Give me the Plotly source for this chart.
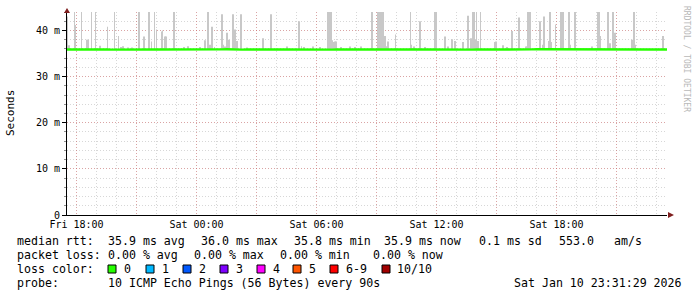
import plotly.graph_objects as go
import pandas as pd

# ---------------- data ----------------
T0 = "2026-01-09 17:31:29"
T1 = "2026-01-10 23:31:29"

# median RTT (ms), one reading every 15 minutes from T0
median_ms = [
    35.88, 35.86, 35.87, 35.85, 35.88, 35.86, 35.87, 35.89, 35.86, 35.85,
    35.87, 35.88, 35.86, 35.87, 35.85, 35.88, 35.90, 35.87, 35.86, 35.85,
    35.86, 35.88, 35.87, 35.86, 35.85, 35.86, 35.87, 35.88, 35.86, 35.85,
    35.87, 35.90, 35.92, 35.95, 35.88, 35.85, 35.86, 35.84, 35.85, 35.86,
    35.87, 35.86, 35.85, 35.86, 35.87, 35.85, 35.84, 35.86, 35.85, 35.86,
    35.85, 35.86, 35.84, 35.85, 35.86, 35.85, 35.84, 35.86, 35.85, 35.84,
    35.85, 35.86, 35.85, 35.84, 35.85, 35.86, 35.85, 35.87, 35.86, 35.85,
    35.86, 35.85, 35.86, 35.87, 35.85, 35.86, 35.84, 35.85, 35.86, 35.85,
    35.86, 35.85, 35.87, 35.86, 35.85, 35.86, 35.85, 35.86, 35.87, 35.88,
    35.86, 35.87, 35.88, 35.90, 35.92, 35.91, 35.90, 35.88, 35.87, 35.88,
    35.87, 35.86, 35.87, 35.86, 35.85, 35.86, 35.87, 35.86, 35.85, 35.86,
    35.87, 35.86, 35.85, 35.86, 35.87, 35.86, 35.85, 35.86, 35.87, 35.86,
    35.86,
]

# smoke: minutes after T0 and top of the ping spread (ms)
spike_min = [
    1.5, 6, 22.5, 25.5, 43.5, 60, 63, 73.5, 85.5, 99, 121.5, 142.5, 154.5, 162,
    168, 183, 195, 217, 231, 245, 253.5, 262.5, 268.5, 283.5, 286.5, 295, 297,
    322, 352,
    363, 399, 414, 424, 429, 436, 442.5, 466, 469, 475, 481, 485, 499, 505, 511,
    523, 540, 587, 612, 660, 697, 703.5, 712,
    738, 759, 782, 785, 788, 791, 794, 801, 804, 807, 822, 849, 864, 882, 915,
    932, 935, 938, 946, 949, 954, 959, 964, 985.5, 1030.5, 1033.5, 1042, 1060,
    1074,
    1105, 1108, 1134, 1142, 1156, 1164, 1188, 1204, 1213, 1219, 1222, 1225,
    1228.5, 1233, 1240.5, 1284, 1287, 1307, 1320, 1336, 1357, 1375.5, 1378.5,
    1382, 1385, 1388, 1418, 1427, 1432,
    1444.5, 1450, 1453, 1465.5, 1482, 1489, 1507, 1510, 1525, 1576, 1593, 1597,
    1600.5, 1622, 1629, 1638, 1642.5, 1645.5, 1696, 1701, 1704, 1789,
]
spike_top = [
    43.0, 36.8, 44, 41.2, 44, 38.0, 38.0, 44, 44, 36.7, 40.8, 44, 38.8, 36.4,
    36.6, 36.3, 36.3, 44, 38.7, 44, 37.6, 44, 40.2, 39.8, 40.0, 38.7, 38.7,
    44, 36.4,
    36.6, 36.4, 37.9, 44, 36.9, 40.8, 36.4, 43.5, 36.9, 36.5, 39.5, 38.0, 43.5,
    40.2, 37.7, 43.5, 36.3, 38.3, 43.5, 36.5, 42.0, 36.6, 36.4,
    36.5, 36.4, 44, 44, 44, 44, 37.9, 37.5, 37.6, 37.6, 36.4, 36.5, 36.4, 36.5,
    44, 44, 44, 44, 44, 44, 38.8, 36.6, 37.6, 39.1, 44, 36.9, 36.5, 42.0, 36.4,
    44, 44, 38.7, 36.5, 38.1, 37.7, 37.5, 43.2, 38.3, 44, 44, 38.0, 44, 37.7,
    44, 37.5, 37.6, 36.8, 36.4, 39.9, 42.8, 36.5, 36.6, 44, 44, 44, 42.0, 36.9,
    43.0,
    37.7, 44, 37.5, 41.3, 44, 44, 44, 36.9, 44, 36.5, 44, 44, 38.8, 44, 37.2,
    44, 39.5, 39.5, 38.0, 44, 36.9, 38.8,
]

y_tickvals = [0, 10, 20, 30, 40]
y_ticktext = ["0", "10 m", "20 m", "30 m", "40 m"]
x_tickvals = ["2026-01-09 18:00", "2026-01-09 21:00", "2026-01-10 00:00",
              "2026-01-10 03:00", "2026-01-10 06:00", "2026-01-10 09:00",
              "2026-01-10 12:00", "2026-01-10 15:00", "2026-01-10 18:00",
              "2026-01-10 21:00"]
x_ticktext = ["Fri 18:00", "", "Sat 00:00", "", "Sat 06:00", "",
              "Sat 12:00", "", "Sat 18:00", ""]

loss_labels = ["0", "1", "2", "3", "4", "5", "6-9", "10/10"]
loss_colors = ["#26ff00", "#00b8ff", "#0059ff", "#7e00ff", "#ff00ff",
               "#ff5500", "#ff0000", "#a10000"]

rtt_line = ["median rtt:", "35.9 ms avg", "36.0 ms max", "35.8 ms min",
            "35.9 ms now", "0.1 ms sd", "553.0", "am/s"]
loss_line = ["packet loss:", "0.00 % avg", "0.00 % max", "0.00 % min",
             "0.00 % now"]
probe_line = ["probe:", "10 ICMP Echo Pings (56 Bytes) every 90s",
              "Sat Jan 10 23:31:29 2026"]

# ---------------- layout helpers (pixel -> paper) ----------------
L, R, TOP, BOT = 67, 667, 12, 215
W, H = 697, 297


def px(x):
    return (x - L) / (R - L)


def py(y):
    return (BOT - y) / (BOT - TOP)


MONO = "DejaVu Sans Mono"

t0 = pd.Timestamp(T0)
med_x = pd.date_range(T0, periods=len(median_ms), freq="15min")
spike_x = [t0 + pd.Timedelta(minutes=m) for m in spike_min]
base = 35.8

fig = go.Figure()
fig.add_trace(go.Bar(
    x=spike_x, y=[v - base for v in spike_top], base=base,
    width=180000, marker=dict(color="#c8c8c8", line=dict(width=0)),
    hoverinfo="skip", showlegend=False))
fig.add_trace(go.Scatter(
    x=med_x, y=median_ms, mode="lines",
    line=dict(color="#26ff00", width=2.4), showlegend=False))

grid_major = "rgba(222,92,92,0.42)"
grid_minor = "rgba(150,150,150,0.38)"

fig.update_layout(
    width=W, height=H, autosize=False,
    margin=dict(l=L, r=W - R, t=TOP, b=H - BOT, pad=0),
    paper_bgcolor="white", plot_bgcolor="white",
    barmode="overlay",
    font=dict(family=MONO, size=10, color="black"),
    xaxis=dict(
        type="date", range=[T0, T1],
        tickmode="array", tickvals=x_tickvals, ticktext=x_ticktext,
        showgrid=True, gridcolor=grid_major, griddash="1px,2px", gridwidth=1,
        minor=dict(dtick=3600000, tick0="2026-01-09 18:00", showgrid=True,
                   gridcolor=grid_minor, griddash="1px,2px", gridwidth=1),
        showline=True, linecolor="black", linewidth=1,
        ticks="", zeroline=False,
        tickfont=dict(family=MONO, size=10, color="black"),
    ),
    yaxis=dict(
        range=[0, 44], tickmode="array", tickvals=y_tickvals,
        ticktext=y_ticktext,
        showgrid=True, gridcolor=grid_major, griddash="1px,2px", gridwidth=1,
        minor=dict(dtick=2, tick0=0, showgrid=True, gridcolor=grid_minor,
                   griddash="1px,2px", gridwidth=1,
                   ticks="outside", ticklen=2, tickcolor="#909090"),
        showline=True, linecolor="black", linewidth=1,
        ticks="outside", ticklen=4, tickcolor="black",
        zeroline=False,
        tickfont=dict(family=MONO, size=10, color="black"),
    ),
)

ann = []
shapes = []

# axis arrows
shapes.append(dict(type="path", xref="paper", yref="paper",
                   path=f"M {px(64)} {py(13)} L {px(70)} {py(13)} L {px(67)} {py(8)} Z",
                   fillcolor="#7f1f1f", line=dict(width=0)))
shapes.append(dict(type="path", xref="paper", yref="paper",
                   path=f"M {px(668)} {py(212)} L {px(668)} {py(218)} L {px(674)} {py(215)} Z",
                   fillcolor="#7f1f1f", line=dict(width=0)))

# y-axis title and watermark
ann.append(dict(text="Seconds", x=px(11), y=py(113), xref="paper", yref="paper",
                textangle=-90, showarrow=False, xanchor="center", yanchor="middle",
                font=dict(family=MONO, size=11, color="black")))
ann.append(dict(text="RRDTOOL / TOBI OETIKER", x=px(687), y=py(59), xref="paper",
                yref="paper", textangle=90, showarrow=False, xanchor="center",
                yanchor="middle", font=dict(family=MONO, size=8, color="#b8b8b8")))

LF = dict(family=MONO, size=11.6, color="black")


def text_at(s, x, y):
    ann.append(dict(text=s, x=px(x), y=py(y), xref="paper", yref="paper",
                    showarrow=False, xanchor="left", yanchor="middle",
                    borderpad=0, font=LF))


rtt_x = [16, 107, 200, 293, 383, 478, 558, 613]
for s, x in zip(rtt_line, rtt_x):
    text_at(s, x, 241)
loss_x = [16, 107, 193, 279, 372]
for s, x in zip(loss_line, loss_x):
    text_at(s, x, 255)
text_at("loss color:", 16, 269)
box_x = [108, 146, 183, 220, 257, 293, 330, 382]
lab_x = [123, 161, 198, 235, 272, 308, 345, 396]
for lab, col, bx, lx in zip(loss_labels, loss_colors, box_x, lab_x):
    shapes.append(dict(type="rect", xref="paper", yref="paper",
                       x0=px(bx), x1=px(bx + 8), y0=py(273), y1=py(265),
                       fillcolor=col, line=dict(color="black", width=1)))
    text_at(lab, lx, 269)
probe_x = [16, 107, 513]
for s, x in zip(probe_line, probe_x):
    text_at(s, x, 283)

fig.update_layout(annotations=ann, shapes=shapes)
fig.write_html("out.html")
